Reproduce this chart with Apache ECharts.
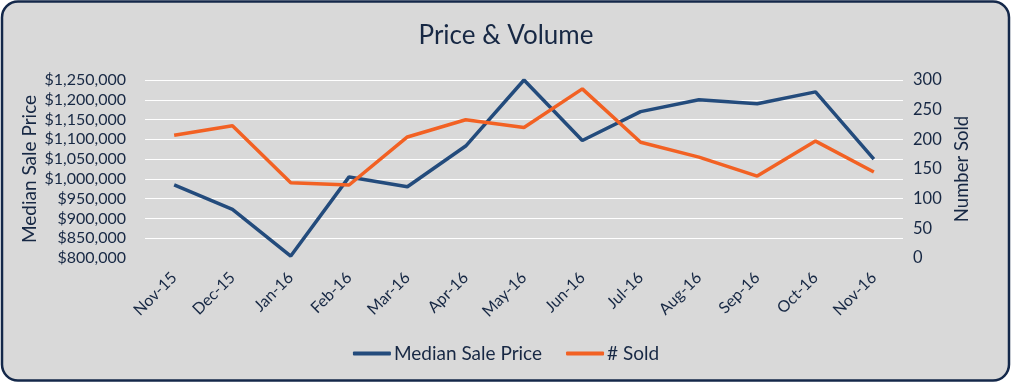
<!DOCTYPE html>
<html>
<head>
<meta charset="utf-8">
<script src="https://cdn.jsdelivr.net/npm/echarts@6/dist/echarts.min.js"></script>
<style>
html,body{margin:0;padding:0;background:#ffffff;}
#c{width:1012px;height:384px;}
</style>
</head>
<body>
<div id="c"></div>
<script>
var categories = ['Nov-15','Dec-15','Jan-16','Feb-16','Mar-16','Apr-16','May-16','Jun-16','Jul-16','Aug-16','Sep-16','Oct-16','Nov-16'];
var medianPrice = [985000, 923000, 805000, 1005000, 980000, 1083000, 1250000, 1097000, 1170000, 1200000, 1190000, 1220000, 1050000];
var numberSold = [207, 223, 127, 123, 204, 233, 220, 285, 195, 170, 138, 197, 145];
var priceTicks = [800000, 850000, 900000, 950000, 1000000, 1050000, 1100000, 1150000, 1200000, 1250000];
var soldTicks = [0, 50, 100, 150, 200, 250, 300];

var txt = '#172844';
var font = 'Lato';
var chart = echarts.init(document.getElementById('c'));
chart.setOption({
  backgroundColor: '#ffffff',
  animation: false,
  graphic: [{
    type: 'rect', z: -10, silent: true,
    shape: {x: 2, y: 1.5, width: 1007, height: 379, r: 16},
    style: {fill: '#d9d9d9', stroke: '#14284a', lineWidth: 2.5}
  }],
  title: {
    text: 'Price & Volume', left: 'center', top: 18,
    textStyle: {color: txt, fontFamily: font, fontWeight: 'normal', fontSize: 26}
  },
  legend: {
    bottom: 16, left: 'center', itemWidth: 38, itemHeight: 4, itemGap: 24,
    icon: 'roundRect',
    textStyle: {color: txt, fontFamily: font, fontSize: 19, padding: [0,0,0,-2]},
    data: ['Median Sale Price', '# Sold']
  },
  grid: {left: 145, right: 109, top: 80, bottom: 126},
  xAxis: {
    type: 'category', data: categories, boundaryGap: true,
    axisLine: {show: false}, axisTick: {show: false},
    axisLabel: {rotate: 45, color: txt, fontFamily: font, fontSize: 16, margin: 17, interval: 0}
  },
  yAxis: [{
    type: 'value', min: priceTicks[0], max: priceTicks[priceTicks.length-1], interval: 50000,
    name: 'Median Sale Price', nameLocation: 'middle', nameRotate: 90, nameGap: 106,
    nameMoveOverlap: false,
    nameTextStyle: {color: txt, fontFamily: font, fontSize: 19},
    axisLine: {show: false}, axisTick: {show: false},
    axisLabel: {color: txt, fontFamily: font, fontSize: 16, margin: 19,
      formatter: function(v){ return '$' + v.toLocaleString('en-US'); }},
    splitLine: {show: true, showMinLine: false, lineStyle: {color: '#ffffff', width: 1}}
  }, {
    type: 'value', min: soldTicks[0], max: soldTicks[soldTicks.length-1], interval: 50,
    name: 'Number Sold', nameLocation: 'middle', nameRotate: 90, nameGap: 48,
    nameTextStyle: {color: txt, fontFamily: font, fontSize: 18.5, verticalAlign: 'top'},
    axisLine: {show: false}, axisTick: {show: false},
    axisLabel: {color: txt, fontFamily: font, fontSize: 16.5, margin: 10},
    splitLine: {show: false}
  }],
  series: [{
    name: 'Median Sale Price', type: 'line', yAxisIndex: 0, data: medianPrice,
    symbol: 'none', color: '#234b7c', lineStyle: {width: 3.5, color: '#234b7c'}
  }, {
    name: '# Sold', type: 'line', yAxisIndex: 1, data: numberSold,
    symbol: 'none', color: '#f26123', lineStyle: {width: 3.5, color: '#f26123'}
  }]
});
</script>
</body>
</html>
